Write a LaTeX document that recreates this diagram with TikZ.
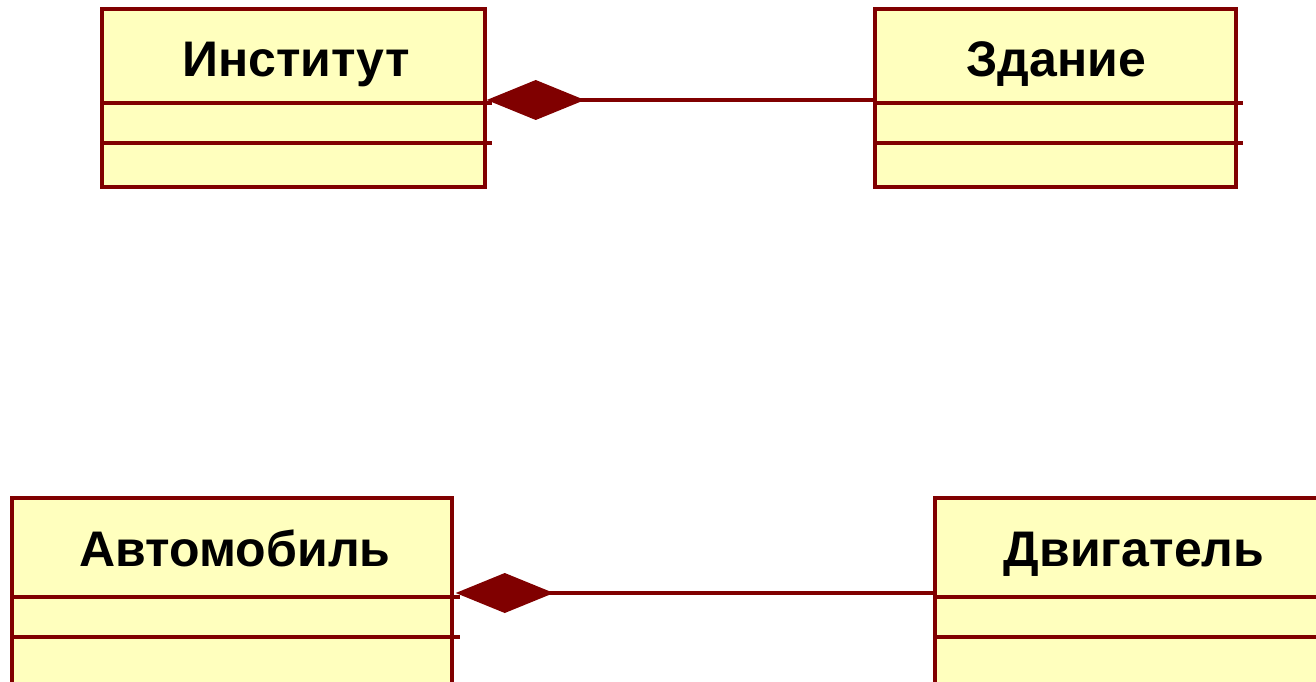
\documentclass[tikz,border=0pt]{standalone}
\usepackage{fontspec}
\setmainfont{Liberation Sans}
\usetikzlibrary{arrows.meta}
\definecolor{umlline}{RGB}{128,0,0}
\definecolor{umlfill}{RGB}{255,255,190}
\tikzset{
  cls/.style={draw=umlline, fill=umlfill, line width=3.5pt, rectangle, inner sep=0pt},
  clsname/.style={font=\fontsize{50}{56}\selectfont\bfseries, text=black, inner sep=0pt, anchor=base},
  divider/.style={draw=umlline, line width=3.5pt},
  comp/.style={draw=umlline, line width=3.5pt, -{Diamond[length=98pt, width=40pt, fill=umlline]}}
}
\begin{document}
\begin{tikzpicture}[x=1pt, y=-1pt]
\useasboundingbox (0,0) rectangle (1316,682);
% top boxes
\node[cls, minimum width=383pt, minimum height=178pt] (inst) at (293.5,98) {};
\node[cls, minimum width=361pt, minimum height=178pt] (zd) at (1055.5,98) {};
\node[clsname] (instn) at (296,77) {Институт};
\node[clsname] (zdn) at (1056,77) {Здание};
\draw[divider] (inst.west |- 0,103) -- ([xshift=5pt]inst.east |- 0,103);
\draw[divider] (inst.west |- 0,143) -- ([xshift=5pt]inst.east |- 0,143);
\draw[divider] (zd.west |- 0,103) -- ([xshift=5pt]zd.east |- 0,103);
\draw[divider] (zd.west |- 0,143) -- ([xshift=5pt]zd.east |- 0,143);
\draw[comp] ([yshift=-2pt]zd.west) -- ([yshift=-2pt]inst.east);
% bottom boxes
\node[cls, minimum width=440pt, minimum height=190pt] (auto) at (232,593) {};
\node[cls, minimum width=398pt, minimum height=190pt] (eng) at (1134,593) {};
\node[clsname] (auton) at (235,566) {Автомобиль};
\node[clsname] (engn) at (1134,566) {Двигатель};
\draw[divider] (auto.west |- 0,597) -- ([xshift=6pt]auto.east |- 0,597);
\draw[divider] (auto.west |- 0,637) -- ([xshift=6pt]auto.east |- 0,637);
\draw[divider] (eng.west |- 0,597) -- (eng.east |- 0,597);
\draw[divider] (eng.west |- 0,637) -- (eng.east |- 0,637);
\draw[comp] (eng.west) -- ([xshift=2pt]auto.east);
\end{tikzpicture}
\end{document}
